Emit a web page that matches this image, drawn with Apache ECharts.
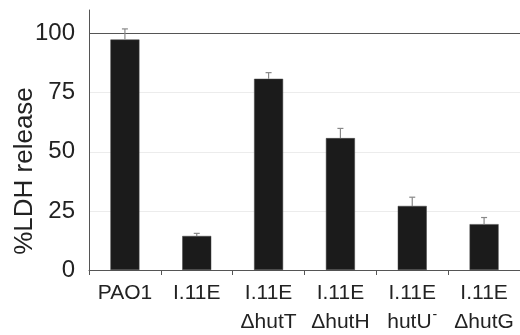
<!DOCTYPE html>
<html>
<head>
<meta charset="utf-8">
<script src="https://cdn.jsdelivr.net/npm/echarts@6/dist/echarts.min.js"></script>
<style>html,body{margin:0;padding:0;background:#fff;}#c{width:520px;height:335px;}</style>
</head>
<body>
<div id="c"></div>
<script>
const categories = ['PAO1', 'I.11E', 'I.11E\nΔhutT', 'I.11E\nΔhutH', 'I.11E\nhutU-', 'I.11E\nΔhutG'];
const ldhRelease = [97.5, 14.4, 80.9, 55.8, 27.1, 19.4];
const errorTop = [102.0, 15.5, 83.5, 59.9, 30.8, 22.2];
const yTicks = [0, 25, 50, 75, 100];

const FONT = "'Liberation Sans', Arial, Helvetica, sans-serif";
const chart = echarts.init(document.getElementById('c'), null, {renderer: 'canvas'});

function fmtCat(v) {
  const parts = v.split('\n');
  if (parts.length === 1) return '{a|' + parts[0] + '}';
  let second = parts[1];
  if (second.endsWith('-')) {
    return '{a|' + parts[0] + '}\n{a|' + second.slice(0, -1) + '}{sup|-}';
  }
  return '{a|' + parts[0] + '}\n{a|' + second + '}';
}

chart.setOption({
  animation: false,
  backgroundColor: '#fff',
  grid: {left: 89, right: -3, top: 10, bottom: 65, containLabel: false},
  xAxis: {
    type: 'category',
    data: categories,
    axisLine: {lineStyle: {color: '#555', width: 1}},
    axisTick: {show: true, length: 5, lineStyle: {color: '#555'}, alignWithLabel: false},
    axisLabel: {
      interval: 0,
      margin: 9,
      color: '#222',
      fontFamily: FONT,
      formatter: fmtCat,
      rich: {
        a: {fontSize: 21, fontFamily: FONT, color: '#222', lineHeight: 29},
        sup: {fontSize: 14, fontFamily: FONT, color: '#222', lineHeight: 29, verticalAlign: 'top', padding: [0, 0, 10, 1]}
      }
    }
  },
  yAxis: {
    type: 'value',
    min: 0,
    max: 110,
    interval: 25,
    axisLine: {show: true, lineStyle: {color: '#555', width: 1}},
    axisTick: {show: false},
    axisLabel: {
      fontSize: 24,
      fontFamily: FONT,
      color: '#222',
      margin: 14,
      showMaxLabel: false,
      formatter: function (v) { return yTicks.indexOf(v) >= 0 ? String(v) : ''; }
    },
    splitLine: {show: true, lineStyle: {color: ['#ececec', '#ececec', '#ececec', '#ececec', '#555', 'rgba(0,0,0,0)'], width: 1}}
  },
  graphic: [{
    type: 'text',
    x: 25,
    y: 171,
    rotation: Math.PI / 2,
    style: {text: '%LDH release', fontSize: 26, fontFamily: FONT, fill: '#222', align: 'center', verticalAlign: 'middle'}
  }],
  series: [
    {
      type: 'bar',
      data: ldhRelease,
      barWidth: 29,
      itemStyle: {color: '#1b1b1b', borderColor: '#444', borderWidth: 0.5},
      z: 2
    },
    {
      type: 'custom',
      z: 3,
      data: categories.map((c, i) => [i, ldhRelease[i], errorTop[i]]),
      renderItem: function (params, api) {
        const base = api.coord([api.value(0), api.value(1)]);
        const top = api.coord([api.value(0), api.value(2)]);
        const hw = 3;
        const st = {stroke: '#888', lineWidth: 1.2};
        return {
          type: 'group',
          children: [
            {type: 'line', shape: {x1: base[0], y1: base[1], x2: top[0], y2: top[1]}, style: st},
            {type: 'line', shape: {x1: top[0] - hw, y1: top[1], x2: top[0] + hw, y2: top[1]}, style: st}
          ]
        };
      }
    }
  ]
});
</script>
</body>
</html>
